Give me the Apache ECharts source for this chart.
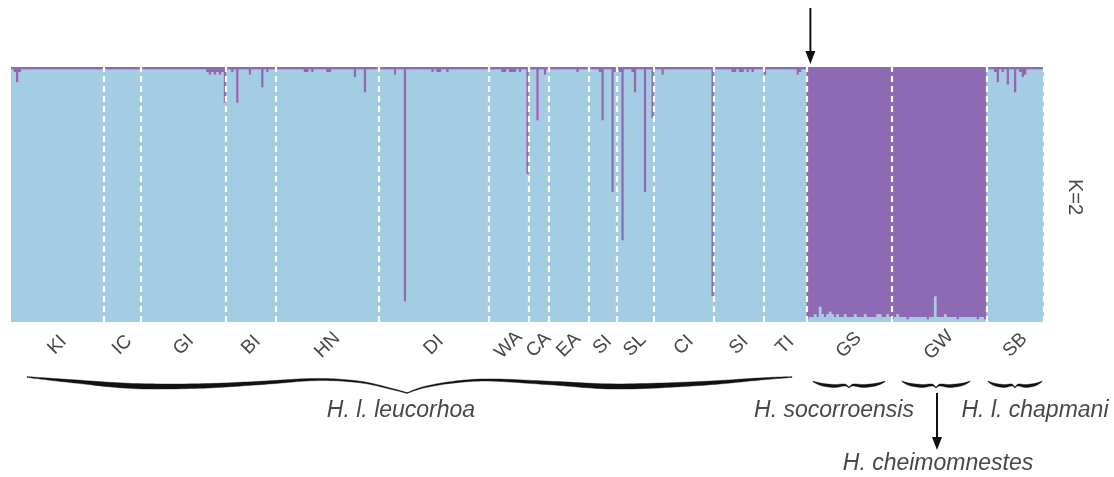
<!DOCTYPE html>
<html><head><meta charset="utf-8">
<script src="https://cdn.jsdelivr.net/npm/echarts@6/dist/echarts.min.js"></script>
<style>html,body{margin:0;padding:0;background:#fff}#c{width:1114px;height:477px}</style>
</head><body><div id="c"></div>
<script>
// Population labels (in plot order)
const populations = ['KI','IC','GI','BI','HN','DI','WA','CA','EA','SI','SL','CI','SI','TI','GS','GW','SB'];
// Membership (%) in cluster 2 (purple) for each individual, per population
const KI = [1,2,6,2,1,1,1,1,1,1, 1,1,1,1,1,1,1,1,1,1, 1,1,1,1,1,1,1,1,1,1, 1,1,1,1,1,1,1];
const IC = [1,1,1,1,1, 1,1,1,1,1, 1,1,1,1,1];
const GI = [1,1,1,1,1,1,1,1,1,1, 1,1,1,1,1,1,1,1,1,1, 1,1,1,1,1,1,2,3,2,3, 2,3,2,14];
const BI = [1,1,2,1,14,1,1,1,1,3, 1,1,1,1,8,1,2,1,1,1];
const HN = [1,1,1,1,1,1,1,1,1,1, 1,2,2,1,2,1,1,1,1,1, 2,2,1,1,1,1,1,1,1,1, 1,4,1,1,1,10,1,1,1,1, 1];
const DI = [1,1,1,1,1,1,3,1,1,1, 92,1,1,1,1,1,1,1,1,1, 1,2,1,2,2,1,1,2,1,1, 1,1,1,1,1,1,1,1,1,1, 1,1,1,1];
const WA = [1,1,1,1,1,2,2,1,2,2, 2,1,2,1,1,42];
const CA = [1,1,1,21,1,1,3,1];
const EA = [1,1,1,1,1,1,1,1,1,1, 1,2,1,1,1,1];
const SI1 = [1,1,1,1,2,21,1,1,1,49,2];
const SL = [1,2,68,1,1,1,2,10,1,1, 1,49,1,1,20];
const CI = [1,1,1,3,1,1,1,1,1,1, 1,1,1,1,1,1,1,1,1,1, 1,1,1,90];
const SI2 = [1,1,1,1,1,1,1,2,2,1, 2,2,1,2,1,2,1,1,1,1];
const TI = [3,1,1,1,1,1,1,1,1,1, 1,1,1,3,2,1,1];
const GS = [99,98,98,97,98,94,97,98,97,96, 97,98,97,98,98,97,98,98,98,97, 98,98,98,97,98,98,98,98,97,97, 98,98,97,98];
const GW = [99,98,97,98,98,98,99,98,98,98, 98,98,98,98,99,98,98,90,98,98, 98,97,98,98,98,98,99,98,98,98, 98,98,98,98,99,98,98,99];
const SB = [1,1,1,2,6,1,2,1,7,1, 1,10,1,2,4,3,1,1,1,1, 1,1,1];
const purpleByPop = [KI, IC, GI, BI, HN, DI, WA, CA, EA, SI1, SL, CI, SI2, TI, GS, GW, SB];

const BLUE = '#a3cde2', PURPLE = '#8d6ab3';

const ids = [], purple = [], blue = [], popStart = [];
let n = 0;
purpleByPop.forEach((arr, p) => {
  popStart.push(n);
  arr.forEach((v, k) => { ids.push(populations[p] + '_' + p + '_' + k); purple.push(v); blue.push(100 - v); n++; });
});
const N = n;
const boundaries = popStart.slice(1).concat([N]);
const centers = purpleByPop.map((a, i) => popStart[i] + a.length / 2);

const chart = echarts.init(document.getElementById('c'), null, {renderer: 'canvas'});
chart.setOption({
  animation: false,
  backgroundColor: '#fff',
  textStyle: {fontFamily: 'Liberation Sans'},
  grid: {left: 11, right: 70, top: 67, bottom: 155, containLabel: false},
  xAxis: [
    {type: 'category', data: ids, show: false, boundaryGap: true},
    {type: 'value', min: 0, max: N, position: 'bottom',
     axisLine: {show: false}, axisTick: {show: false}, splitLine: {show: false},
     axisLabel: {
       customValues: centers,
       formatter: function (v) {
         let best = 0, bd = Infinity;
         centers.forEach((c, i) => { const d = Math.abs(c - v); if (d < bd) { bd = d; best = i; } });
         return populations[best];
       },
       rotate: 45, align: 'center', verticalAlign: 'middle', margin: 23,
       fontSize: 19, color: '#484848', fontFamily: 'Liberation Sans'
     }}
  ],
  yAxis: {type: 'value', min: 0, max: 100, show: false},
  series: [
    {type: 'bar', xAxisIndex: 0, stack: 'q', data: blue, barWidth: '100%', large: true, largeThreshold: 50,
     itemStyle: {color: BLUE}, silent: true},
    {type: 'bar', xAxisIndex: 0, stack: 'q', data: purple, barWidth: '100%', large: true, largeThreshold: 50,
     itemStyle: {color: PURPLE}, silent: true},
    {type: 'scatter', xAxisIndex: 1, z: 5, symbolSize: 0, silent: true,
     data: boundaries.map(b => [b, 0]),
     markLine: {silent: true, symbol: 'none', label: {show: false},
       lineStyle: {color: '#ffffff', type: [6, 4], width: 2.2, opacity: 1},
       emphasis: {disabled: true},
       data: boundaries.map(b => ({xAxis: b}))}}
  ]
});

function spline(pts, seg) {
  const out = [];
  for (let i = 0; i < pts.length - 1; i++) {
    const p0 = pts[Math.max(i - 1, 0)], p1 = pts[i], p2 = pts[i + 1], p3 = pts[Math.min(i + 2, pts.length - 1)];
    for (let s = 0; s < seg; s++) {
      const t = s / seg, t2 = t * t, t3 = t2 * t;
      const f = (a, b, c, d) => 0.5 * ((2 * b) + (-a + c) * t + (2 * a - 5 * b + 4 * c - d) * t2 + (-a + 3 * b - 3 * c + d) * t3);
      out.push([f(p0[0], p1[0], p2[0], p3[0]), f(p0[1], p1[1], p2[1], p3[1]), f(p0[2], p1[2], p2[2], p3[2])]);
    }
  }
  out.push(pts[pts.length - 1].slice());
  return out;
}
function braceShape(pts) {
  const c = spline(pts, 14);
  const up = [], lo = [];
  c.forEach(([x, y, w]) => { up.push([x, y - w]); lo.push([x, y + w]); });
  return up.concat(lo.reverse());
}
function poly(pts) {
  return {type: 'polygon', silent: true, shape: {points: braceShape(pts)}, style: {fill: '#111', stroke: '#111', lineWidth: 0.4}};
}
function smallBrace(x0, x1) {
  const w = x1 - x0, m = (x0 + x1) / 2;
  const L = [[x0, 381.5, 0.4], [x0 + 0.12 * w, 384.5, 1.3], [x0 + 0.3 * w, 386, 1.5], [m - 0.06 * w, 385, 1.0], [m, 387.5, 0.4]];
  const R = [[m, 387.5, 0.4], [m + 0.06 * w, 385, 1.0], [x1 - 0.3 * w, 386, 1.5], [x1 - 0.12 * w, 384.5, 1.3], [x1, 381.5, 0.4]];
  return [poly(L), poly(R)];
}
function px(v) { return chart.convertToPixel({xAxisIndex: 1, yAxisIndex: 0}, [v, 0])[0]; }

const gsStart = px(popStart[14]);
const g = [];
// big brace
g.push(poly([[27,377,0.4],[70,381,1.5],[133,386,2.6],[200,386,2.3],[260,383,1.7],[317,379.5,1.1],[360,382,0.8],[392,389,0.6],[407,393,0.4]]));
g.push(poly([[407,393,0.4],[425,387,0.7],[455,382,0.9],[490,380,1.1],[550,383,1.8],[617,386.5,2.6],[700,383.5,2],[760,379,1.1],[792,377,0.4]]));
smallBrace(813, 885).forEach(e => g.push(e));
smallBrace(902, 970).forEach(e => g.push(e));
smallBrace(988, 1042).forEach(e => g.push(e));
// top arrow
const ax = gsStart + 4;
g.push({type: 'line', silent: true, shape: {x1: ax, y1: 8, x2: ax, y2: 54}, style: {stroke: '#111', lineWidth: 2}});
g.push({type: 'polygon', silent: true, shape: {points: [[ax - 5, 51], [ax + 5, 51], [ax, 64]]}, style: {fill: '#111'}});
// GW arrow
g.push({type: 'line', silent: true, shape: {x1: 937, y1: 393, x2: 937, y2: 440}, style: {stroke: '#111', lineWidth: 2}});
g.push({type: 'polygon', silent: true, shape: {points: [[932, 437], [942, 437], [937, 450]]}, style: {fill: '#111'}});
// texts
const T = (text, x, y) => ({type: 'text', silent: true, style: {text, x, y, align: 'center', verticalAlign: 'middle',
  fontStyle: 'italic', fontSize: 23, fontFamily: 'Liberation Sans', fill: '#484848'}});
g.push(T('H. l. leucorhoa', 401, 411));
g.push(T('H. socorroensis', 834, 411));
g.push(T('H. l. chapmani', 1035, 411));
g.push(T('H. cheimomnestes', 938, 464));
g.push({type: 'text', silent: true, x: 1075, y: 197, rotation: -Math.PI / 2,
  style: {text: 'K=2', align: 'center', verticalAlign: 'middle', fontSize: 20, fontFamily: 'Liberation Sans', fill: '#484848'}});
chart.setOption({graphic: g});
</script>
</body></html>
